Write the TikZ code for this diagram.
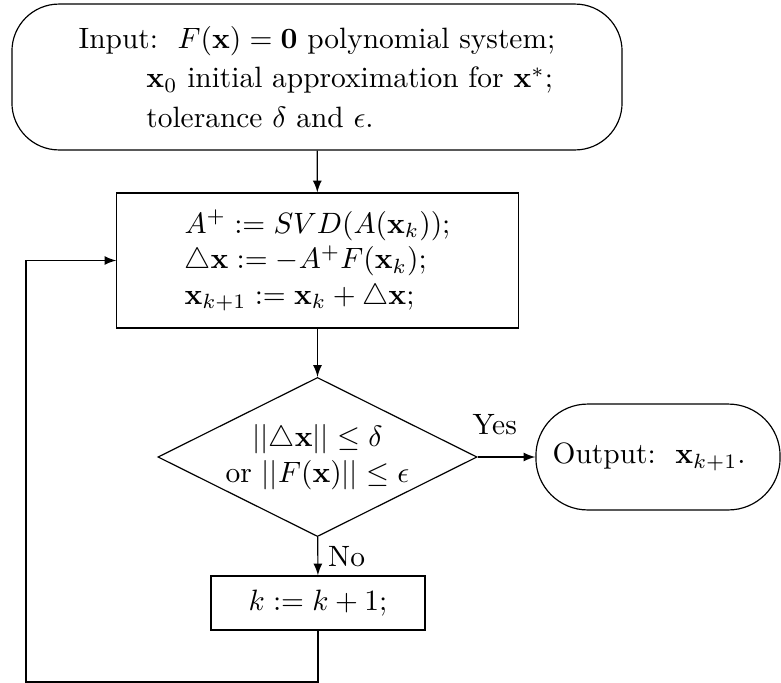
\documentclass[tikz,border=0pt]{standalone}
\usepackage{amsmath}
\usepackage{amsfonts}
\usepackage{amssymb}
\usepackage{tikz}
\usetikzlibrary{shapes.geometric}

\begin{document}
\begin{tikzpicture}[x=0.01195cm, y=-0.01195cm, >=latex,
    stepbox/.style={draw, rectangle, inner sep=0pt},
    endbox/.style={draw, rectangle, inner sep=0pt}]
      \useasboundingbox (0,0) rectangle (781,683);

      % Input
      \node[endbox, rounded corners=16pt, minimum width=207.4pt, minimum height=49.6pt, align=left] (input) at (317,77)
        {Input:\ \ $F(\mathbf{x})=\mathbf{0}$ polynomial system;\\[1.5pt]
         \hspace*{2.3em}$\mathbf{x}_0$ initial approximation for $\mathbf{x}^{*}$;\\[1.5pt]
         \hspace*{2.3em}tolerance $\delta$ and $\epsilon$.};

      % Newton step
      \node[stepbox, minimum width=136.4pt, minimum height=45.9pt, align=left] (newton) at (317.5,260.5)
        {$A^{+}:=SVD(A(\mathbf{x}_k));$\\
         $\triangle\mathbf{x}:=-A^{+}F(\mathbf{x}_k);$\\
         $\mathbf{x}_{k+1}:=\mathbf{x}_k+\triangle\mathbf{x};$};

      % Test
      \node[draw, diamond, aspect=2, inner sep=0pt, minimum width=108.5pt, minimum height=54.1pt, align=center] (test) at (317.5,457)
        {$||\triangle\mathbf{x}||\leq\delta$\\ or $||F(\mathbf{x})||\leq\epsilon$};

      % Output
      \node[endbox, rounded corners=17.6pt, minimum width=83pt, minimum height=36pt] (output) at (658,457)
        {Output:\ \ $\mathbf{x}_{k+1}$.\hspace*{6pt}};

      % Counter
      \node[stepbox, minimum width=72.8pt, minimum height=18.4pt] (count) at (318,603) {$k:=k+1;$};

      \coordinate (back) at (26,682);

      % Arrows
      \draw[->] (input) -- (newton);
      \draw[->] (newton) -- (test);
      \draw[->] (test) -- node[above=4pt, xshift=-4pt] {Yes} (output);
      \draw[->] (test) -- node[right] {No} (count);
      \draw[->] (count) |- (back) |- (newton.west);
    \end{tikzpicture}
\end{document}
